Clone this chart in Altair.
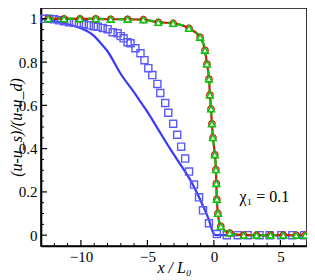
import altair as alt
import pandas as pd

# Blue solid curve
line_x = [-13, -12, -11, -10, -9, -8.5, -8, -7, -6, -5.5, -5, -4.25, -3.3, -2.5, -1.8, -0.8, -0.4, -0.07, 0.1, 7]
line_y = [1.0, 0.99, 0.975, 0.956, 0.92, 0.887, 0.85, 0.745, 0.66, 0.615, 0.57, 0.495, 0.40, 0.325, 0.258, 0.133, 0.075, 0.014, 0.0, 0.0]

# Blue squares
sq_x = [-12.76, -12.39, -12.01, -11.64, -11.27, -10.90, -10.52, -10.15, -9.78, -9.40, -9.03, -8.73,
        -8.36, -7.99, -7.61, -7.24, -7.01, -6.79, -6.49, -6.27, -5.90, -5.52, -5.22, -4.93, -4.63,
        -4.25, -4.03, -3.66, -3.43, -3.06, -2.76, -2.46, -2.16, -1.87, -1.49, -1.12, -0.82, -0.37,
        0.22, 0.97, 1.79, 2.54, 3.43, 4.18, 5.07, 5.90, 6.79]
sq_y = [1.0, 1.0, 0.998, 0.993, 0.989, 0.984, 0.982, 0.979, 0.975, 0.970, 0.966, 0.963,
        0.958, 0.952, 0.938, 0.933, 0.920, 0.910, 0.892, 0.887, 0.864, 0.841, 0.809, 0.772, 0.740,
        0.699, 0.657, 0.611, 0.566, 0.515, 0.464, 0.409, 0.354, 0.294, 0.234, 0.175, 0.115, 0.055,
        0.005, 0.0, 0.0, 0.0, 0.0, 0.0, 0.0, 0.0, 0.0]

# Green / red step curve (triangles and circles)
tr_x = [-12.46, -11.27, -10.07, -8.88, -7.76, -6.49, -5.30, -4.18, -3.06, -1.87, -1.04, -0.67,
        -0.52, -0.37, -0.30, -0.22, -0.15, -0.07, 0.07, 0.15, 0.18, 0.22, 0.30, 0.52, 1.19,
        2.24, 3.21, 4.25, 5.22, 6.19, 6.87]
tr_y = [1.0, 1.0, 1.0, 1.0, 0.998, 0.998, 0.996, 0.984, 0.979, 0.956, 0.915, 0.855,
        0.791, 0.722, 0.648, 0.584, 0.515, 0.451, 0.372, 0.303, 0.239, 0.166, 0.101, 0.041, 0.01,
        0.0, 0.0, 0.0, 0.0, 0.0, 0.0]

x_major = [-10, -5, 0, 5]
x_minor = [-12, -11, -9, -8, -7, -6, -4, -3, -2, -1, 1, 2, 3, 4, 6]
y_major = [0, 0.2, 0.4, 0.6, 0.8, 1.0]
y_minor = [0.05, 0.1, 0.15, 0.25, 0.3, 0.35, 0.45, 0.5, 0.55, 0.65, 0.7, 0.75, 0.85, 0.9, 0.95]

W, H = 266, 238
FONT = "Liberation Serif"

xs = alt.Scale(domain=[-13, 7], nice=False, zero=False)
ys = alt.Scale(domain=[-0.05, 1.05], nice=False, zero=False)

xenc = alt.X("x:Q", scale=xs, axis=alt.Axis(values=x_major, ticks=False, grid=False, labelPadding=3,
                                            title="x / L₀", titleFontStyle="italic", titlePadding=-5))
yenc = alt.Y("y:Q", scale=ys, axis=alt.Axis(values=y_major, ticks=False, grid=False, labelPadding=4, format="~g",
                                            title="(u-u_s)/(u-u_d)", titleFontStyle="italic", titlePadding=-6))

df_line = pd.DataFrame({"x": line_x, "y": line_y})
df_sq = pd.DataFrame({"x": sq_x, "y": sq_y})
df_tr = pd.DataFrame({"x": tr_x, "y": tr_y})

blue_line = alt.Chart(df_line).mark_line(color="#3a3aff", strokeWidth=2.2, interpolate="monotone").encode(x=xenc, y=yenc)
squares = alt.Chart(df_sq).mark_point(shape="square", filled=False, color="#5a5aff", size=50, strokeWidth=1.4, opacity=1).encode(x="x:Q", y="y:Q")
red_line = alt.Chart(df_tr).mark_line(color="#e01010", strokeWidth=2.2, interpolate="monotone").encode(x="x:Q", y="y:Q")
green_line = alt.Chart(df_tr).mark_line(color="#10c010", strokeWidth=2.4, strokeDash=[6, 4], interpolate="monotone").encode(x="x:Q", y="y:Q")
circles = alt.Chart(df_tr).mark_point(shape="circle", filled=False, color="#e01010", size=40, strokeWidth=1.3, opacity=1).encode(x="x:Q", y="y:Q")
triangles = alt.Chart(df_tr).mark_point(shape="triangle-up", filled=True, fill="white", stroke="#10c010", size=45, strokeWidth=1.6, opacity=1).encode(x="x:Q", y="y:Q")

label = alt.Chart(pd.DataFrame({"x": [3.8], "y": [0.175], "t": ["χ₁ = 0.1"]})).mark_text(
    font=FONT, fontSize=16, color="black").encode(x="x:Q", y="y:Q", text="t:N")

xt_major = alt.Chart(pd.DataFrame({"x": x_major})).mark_rule(color="black", strokeWidth=1.2).encode(
    x="x:Q", y=alt.value(H), y2=alt.value(H - 6))
xt_minor = alt.Chart(pd.DataFrame({"x": x_minor})).mark_rule(color="black", strokeWidth=1).encode(
    x="x:Q", y=alt.value(H), y2=alt.value(H - 3))
yt_major = alt.Chart(pd.DataFrame({"y": y_major})).mark_rule(color="black", strokeWidth=1.2).encode(
    y="y:Q", x=alt.value(0), x2=alt.value(6))
yt_minor = alt.Chart(pd.DataFrame({"y": y_minor})).mark_rule(color="black", strokeWidth=1).encode(
    y="y:Q", x=alt.value(0), x2=alt.value(3))

chart = alt.layer(
    blue_line, squares, red_line, green_line, circles, triangles, label,
    xt_major, xt_minor, yt_major, yt_minor
).properties(
    width=W, height=H,
    autosize=alt.AutoSizeParams(type="none"),
    padding={"left": 33, "top": 0, "right": 0, "bottom": 34},
).configure_view(
    stroke="black", strokeWidth=1.6
).configure_axis(
    domainColor="black", domainWidth=1.6,
    labelFont=FONT, labelFontSize=15, labelColor="black",
    titleFont=FONT, titleFontSize=16, titleColor="black", titleFontWeight="normal",
)

chart.save("out.html", embed_options={"renderer": "svg", "actions": False})
